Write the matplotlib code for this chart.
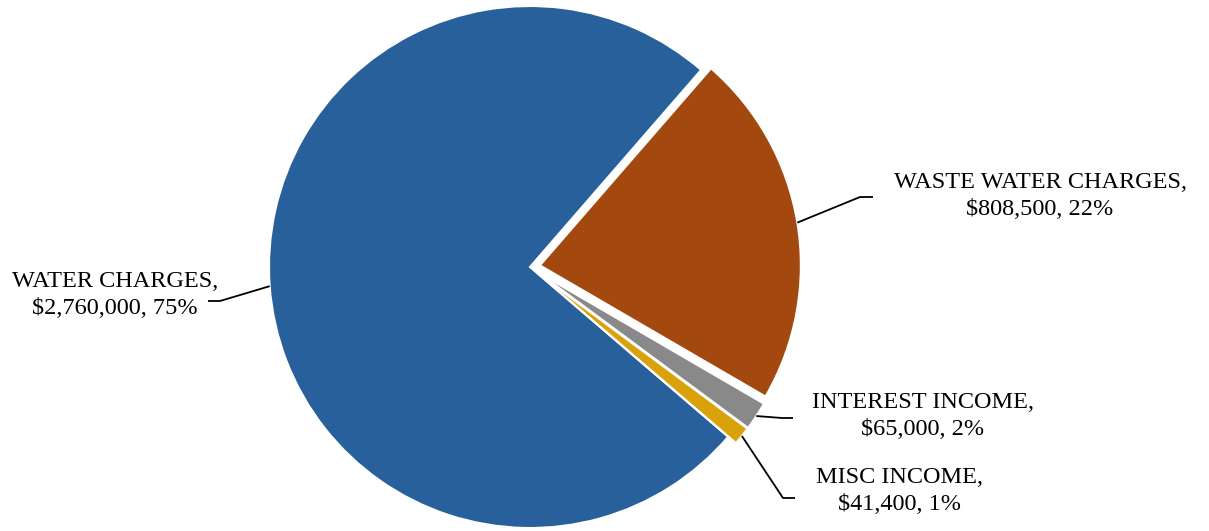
import numpy as np
import matplotlib.pyplot as plt

# Revenue sources
categories = ['WATER CHARGES', 'WASTE WATER CHARGES', 'INTEREST INCOME', 'MISC INCOME']
amounts = [2760000, 808500, 65000, 41400]
colors = ['#27609A', '#A3490F', '#898989', '#D9A20A']

# label layout: (elbow point, end of leader, text centre) in pixel coords (y up)
label_layout = {
    'WATER CHARGES': ((220, 230), (208, 230), (115, 236)),
    'WASTE WATER CHARGES': ((860, 334), (873, 334), (1040, 335)),
    'INTEREST INCOME': ((782, 113), (793, 113), (923, 115)),
    'MISC INCOME': ((783, 33), (795, 33), (899, 40)),
}

W, H = 1209, 531
fig = plt.figure(figsize=(W / 100, H / 100), dpi=100)
ax = fig.add_axes([0, 0, 1, 1])

center = (530, 264)
radius = 261
wedges, _ = ax.pie(amounts, colors=colors, startangle=-40.6, counterclock=False,
                   center=center, radius=radius, explode=[0, 10, 10, 10],
                   wedgeprops=dict(edgecolor='white', linewidth=1.5))

ax.set_xlim(0, W)
ax.set_ylim(0, H)
ax.set_aspect('equal')
ax.axis('off')

total = sum(amounts)
for w, name, amt in zip(wedges, categories, amounts):
    mid = np.deg2rad((w.theta1 + w.theta2) / 2)
    cx, cy = w.center
    sx, sy = cx + w.r * np.cos(mid), cy + w.r * np.sin(mid)
    elbow, end, txt = label_layout[name]
    ax.plot([sx, elbow[0], end[0]], [sy, elbow[1], end[1]], color='black', lw=1.3,
            solid_capstyle='butt')
    pct = amt / total * 100
    ax.text(txt[0], txt[1], f'{name},\n${amt:,}, {pct:.0f}%', ha='center', va='center',
            family='Liberation Serif', fontsize=17.5, linespacing=1.34, color='black')

fig.savefig('out.png', dpi=100)
